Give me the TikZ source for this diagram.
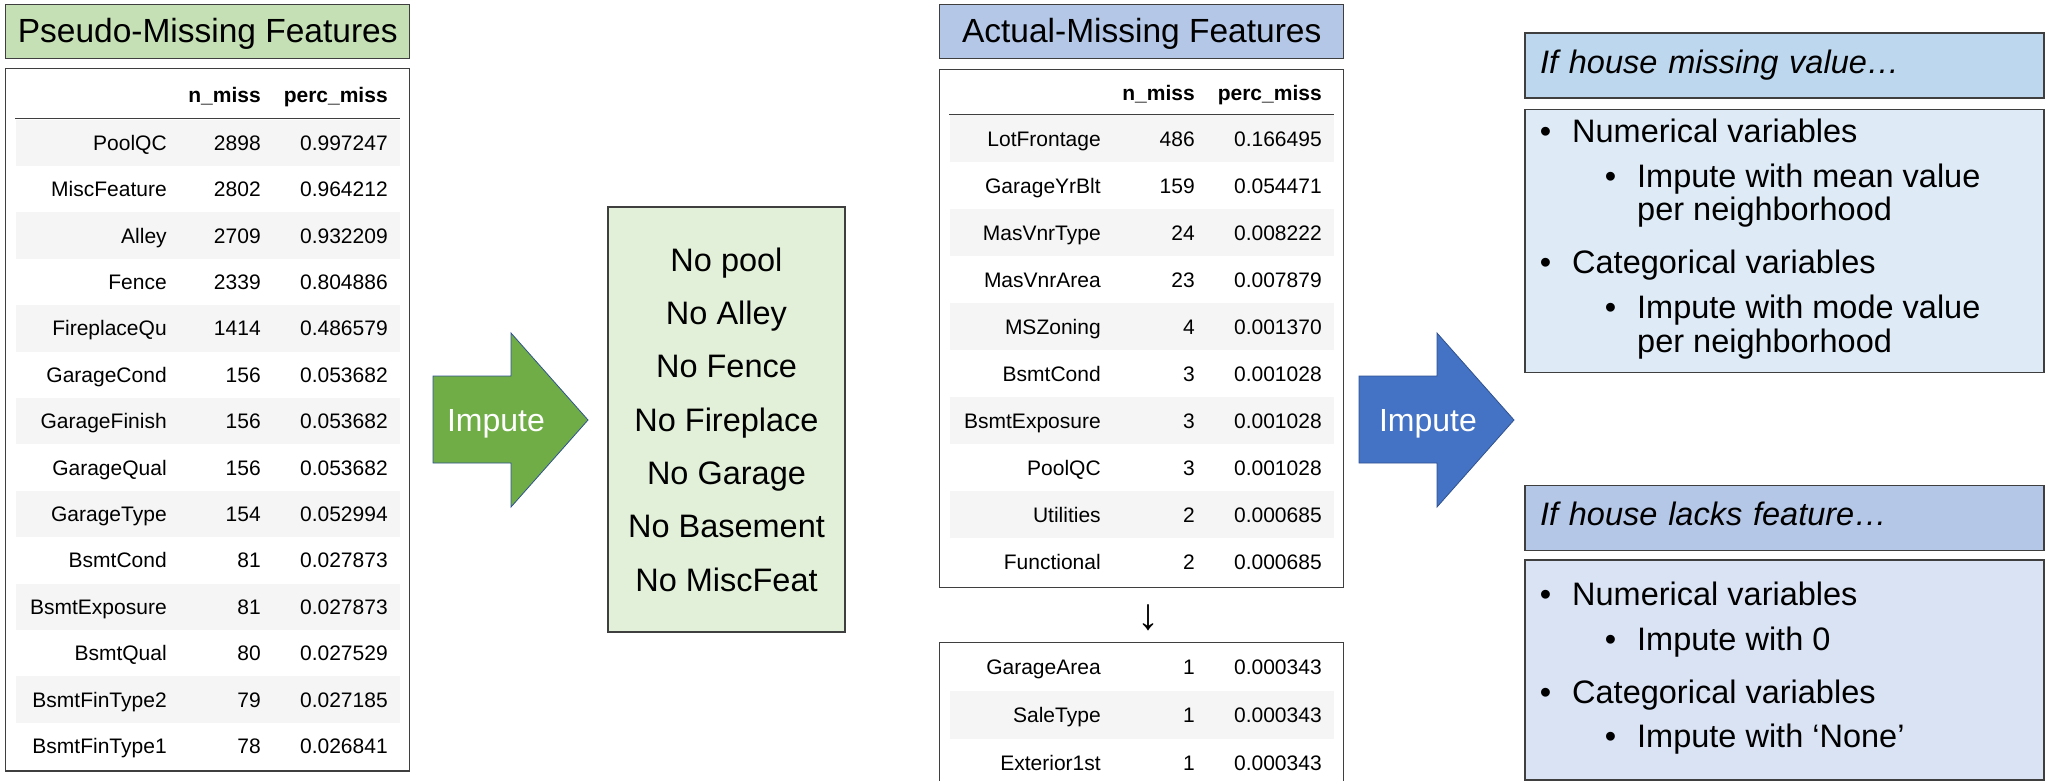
\documentclass[tikz,border=0pt]{standalone}
\usepackage{fontspec}
\setmainfont{Liberation Sans}
\usetikzlibrary{matrix,positioning}

\definecolor{boxline}{HTML}{3F3F3F}
\definecolor{rowgray}{HTML}{F5F5F5}
\definecolor{pseudofill}{HTML}{C5E0B4}
\definecolor{nofeatfill}{HTML}{E2F0D9}
\definecolor{actualfill}{HTML}{B4C7E7}
\definecolor{valheadfill}{HTML}{BDD7EE}
\definecolor{valbodyfill}{HTML}{DEEBF7}
\definecolor{lackheadfill}{HTML}{B4C7E7}
\definecolor{lackbodyfill}{HTML}{DAE3F3}
\definecolor{arrgreen}{HTML}{70AD47}
\definecolor{arrblue}{HTML}{4472C4}
\definecolor{arrline}{HTML}{2F528F}

\newcommand\cellfnt{\fontsize{21}{25}\selectfont}
\newcommand\titlefnt{\fontsize{33.5}{40}\selectfont}
\newcommand\bodyfnt{\fontsize{32.5}{38}\selectfont}

\begin{document}
\begin{tikzpicture}[x=1pt, y=-1pt,
    box/.style={draw=boxline, line width=1.4pt},
    title/.style={box, font=\titlefnt, minimum width=404pt, minimum height=54pt,
                  inner sep=0pt, text height=25pt, text depth=2pt},
    tabl/.style={matrix of nodes, box, anchor=north west, inner xsep=10pt, inner ysep=2pt,
                 column sep=0pt, row sep=0pt,
                 nodes={font=\cellfnt, align=right, inner xsep=6pt, inner ysep=0pt,
                        text height=17pt, text depth=2pt},
                 every even row/.style={nodes={fill=rowgray}},
                 column 1/.style={nodes={text width=145pt}},
                 column 2/.style={nodes={text width=82pt}},
                 column 3/.style={nodes={text width=109pt, inner xsep=12pt}}},
    colhead/.style={nodes={font=\cellfnt\bfseries, minimum height=#1}},
    rule/.style={draw=boxline, line width=1.2pt},
    impute/.style={font=\fontsize{32}{38}\selectfont, text=white, text height=25pt, text depth=2pt},
    note/.style={box, minimum width=519pt, text width=489pt, inner xsep=15pt, align=left,
                 font=\bodyfnt\itshape, text height=23pt, text depth=8pt},
    item/.style={anchor=base west, inner sep=0pt, font=\bodyfnt}]
  \useasboundingbox (0,0) rectangle (2048,780);

  % pseudo-missing table
  \matrix (pseudo) [tabl, nodes={minimum height=46.4pt}, row 1/.style={colhead=48.8pt}] at (5,68) {
    & n\_miss & perc\_miss \\
    PoolQC & 2898 & 0.997247 \\
    MiscFeature & 2802 & 0.964212 \\
    Alley & 2709 & 0.932209 \\
    Fence & 2339 & 0.804886 \\
    FireplaceQu & 1414 & 0.486579 \\
    GarageCond & 156 & 0.053682 \\
    GarageFinish & 156 & 0.053682 \\
    GarageQual & 156 & 0.053682 \\
    GarageType & 154 & 0.052994 \\
    BsmtCond & 81 & 0.027873 \\
    BsmtExposure & 81 & 0.027873 \\
    BsmtQual & 80 & 0.027529 \\
    BsmtFinType2 & 79 & 0.027185 \\
    BsmtFinType1 & 78 & 0.026841 \\
  };
  \draw[rule] (pseudo-2-1.north west) -- (pseudo-2-3.north east);
  \node[title, fill=pseudofill, above=9pt of pseudo] (pseudohead) {Pseudo-Missing Features};

  % actual-missing tables
  \matrix (actual) [tabl, nodes={minimum height=47pt}, row 1/.style={colhead=43.5pt}] at (939,69) {
    & n\_miss & perc\_miss \\
    LotFrontage & 486 & 0.166495 \\
    GarageYrBlt & 159 & 0.054471 \\
    MasVnrType & 24 & 0.008222 \\
    MasVnrArea & 23 & 0.007879 \\
    MSZoning & 4 & 0.001370 \\
    BsmtCond & 3 & 0.001028 \\
    BsmtExposure & 3 & 0.001028 \\
    PoolQC & 3 & 0.001028 \\
    Utilities & 2 & 0.000685 \\
    Functional & 2 & 0.000685 \\
  };
  \draw[rule] (actual-2-1.north west) -- (actual-2-3.north east);
  \node[title, fill=actualfill, above=10pt of actual] (actualhead) {Actual-Missing Features};
  \matrix (actualrest) [tabl, below=54pt of actual, inner ysep=0pt, nodes={minimum height=48pt}] {
    GarageArea & 1 & 0.000343 \\
    SaleType & 1 & 0.000343 \\
    Exterior1st & 1 & 0.000343 \\
  };
  \node[font=\fontsize{44}{48}\selectfont] (more) at (1148,618) {↓};

  % filled-in features
  \node[box, fill=nofeatfill, minimum width=237pt, minimum height=425pt, align=center,
        font=\fontsize{32.5}{53.3}\selectfont] (nofeat) at (726.5,419.5)
    {No pool\\No Alley\\No Fence\\No Fireplace\\No Garage\\No Basement\\No MiscFeat};

  % impute arrows
  \foreach \x/\tx/\col in {433/496/arrgreen, 1359/1428/arrblue} {
    \filldraw[fill=\col, draw=arrline, line width=0.8pt]
      (\x,376) -- ({\x+78},376) -- ({\x+78},333) -- ({\x+155},420)
      -- ({\x+78},507) -- ({\x+78},463) -- (\x,463) -- cycle;
    \node[impute] (imp\x) at (\tx,420) {Impute};
  }

  % rules for missing values
  \node[note, fill=valheadfill, minimum height=65pt] (valhead) at (1784.5,65.5) {If house missing value…};
  \node[box, fill=valbodyfill, minimum width=519pt, minimum height=263pt, below=10pt of valhead] (valbody) {};
  \node[note, fill=lackheadfill, minimum height=65pt] (lackhead) at (1784.5,518) {If house lacks feature…};
  \node[box, fill=lackbodyfill, minimum width=519pt, minimum height=220pt, below=8pt of lackhead] (lackbody) {};

  \foreach \y/\txt [count=\i] in {142.5/Numerical variables, 273.5/Categorical variables,
                                  605.5/Numerical variables, 703.5/Categorical variables}
    \node[item] (main\i) at (1572,\y) {\llap{•\hspace{21pt}}\txt};
  \foreach \y/\txt [count=\i] in {187.5/Impute with mean value, 318.5/Impute with mode value,
                                  650.5/Impute with 0, 747.5/Impute with ‘None’}
    \node[item] (sub\i) at (1637,\y) {\llap{•\hspace{21pt}}\txt};
  \foreach \y [count=\i] in {220.5, 352.5}
    \node[item] (cont\i) at (1637,\y) {per neighborhood};
\end{tikzpicture}
\end{document}
